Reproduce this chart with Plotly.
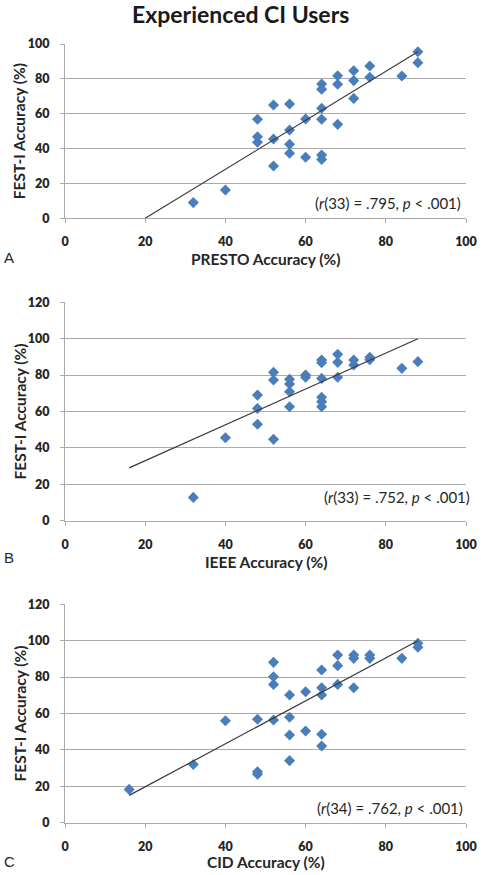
import plotly.graph_objects as go

# ---------------- data ----------------
presto_x = [88, 88, 84, 76, 76, 72, 72, 72, 68, 68, 68, 64, 64, 64, 64, 64, 64,
            60, 60, 56, 56, 56, 56, 52, 52, 52, 48, 48, 48, 40, 32]
festi_a = [95.5, 89.3, 81.6, 87.4, 80.9, 84.7, 79, 68.8, 81.8, 76.9, 53.9, 77, 74,
           63.1, 56.8, 36.3, 33.8, 57, 35, 65.6, 50.7, 42.5, 37.3, 65, 45.5, 30,
           56.8, 46.8, 43.6, 16.2, 9]

ieee_x = [88, 84, 76, 76, 72, 72, 68, 68, 68, 64, 64, 64, 64, 64, 64, 60, 60,
          56, 56, 56, 56, 52, 52, 52, 48, 48, 48, 40, 32]
festi_b = [87.4, 83.7, 89.8, 88.5, 88.3, 85.5, 91.4, 87, 78.8, 88.3, 86.8, 78.2,
           67.8, 65.4, 62.6, 80, 78.8, 77.7, 75.1, 70.9, 62.6, 81.5, 77.3, 44.7,
           69, 61.7, 53, 45.6, 12.8]

cid_x = [88, 88, 84, 76, 76, 72, 72, 72, 68, 68, 68, 64, 64, 64, 64, 64, 60, 60,
         56, 56, 56, 56, 52, 52, 52, 52, 48, 48, 48, 40, 32, 16]
festi_c = [98.6, 96.4, 90.3, 92.1, 90.3, 92.1, 90.3, 74.2, 92.1, 86.3, 76, 83.9,
           74.2, 70.2, 48.6, 42.1, 72, 50.4, 70.2, 57.9, 48.2, 34.1, 88.1, 80.2,
           76, 56.4, 56.8, 28, 26.6, 56, 32, 18.3]

trend_a_x = [20, 88]
trend_a_y = [0, 95.5]
trend_b_x = [16, 88]
trend_b_y = [29, 100]
trend_c_x = [16, 88]
trend_c_y = [15, 100]

x_titles = ["PRESTO Accuracy (%)", "IEEE Accuracy (%)", "CID Accuracy (%)"]
y_title = "FEST-I Accuracy (%)"
stats = ["(<i>r</i>(33) = .795, <i>p</i> < .001)",
         "(<i>r</i>(33) = .752, <i>p</i> < .001)",
         "(<i>r</i>(34) = .762, <i>p</i> < .001)"]
letters = ["A", "B", "C"]
y_max = [100, 120, 120]
title = "Experienced CI Users"

# ---------------- layout geometry ----------------
W, H = 481, 875
FONT = "Lato"
TXT = "#262626"
GRID = "#ababab"
BLUE = "#4a7ebb"

def py(p):
    return 1 - p / H

def px(p):
    return p / W

x_dom = [px(65), px(466)]
y_doms = [[py(218.3), py(44)], [py(520.7), py(302.3)], [py(822.7), py(604.3)]]
xtitle_y = [259, 562, 862]
letter_y = [257, 557, 861]
stat_right = [463, 472, 465]
stat_y = [202.7, 497.3, 808]

fig = go.Figure()

series = [(presto_x, festi_a, trend_a_x, trend_a_y),
          (ieee_x, festi_b, trend_b_x, trend_b_y),
          (cid_x, festi_c, trend_c_x, trend_c_y)]

annotations = []
for i, (xs, ys, tx, ty) in enumerate(series):
    sfx = "" if i == 0 else str(i + 1)
    fig.add_trace(go.Scatter(x=xs, y=ys, mode="markers",
                             marker=dict(symbol="diamond", size=8.5, color=BLUE,
                                         line=dict(width=0)),
                             xaxis="x" + sfx, yaxis="y" + sfx, showlegend=False,
                             cliponaxis=False))
    fig.add_trace(go.Scatter(x=tx, y=ty, mode="lines",
                             line=dict(color="#3a3a3a", width=1.2),
                             xaxis="x" + sfx, yaxis="y" + sfx, showlegend=False))
    axis_common = dict(showline=True, linecolor=GRID, linewidth=1,
                       ticks="outside", ticklen=4, tickcolor=GRID,
                       tickfont=dict(family=FONT, size=12.5, color=TXT, weight=800),
                       zeroline=False, ticklabeloverflow="allow", automargin=False)
    fig.layout["xaxis" + sfx] = dict(domain=x_dom, range=[0, 100], dtick=20, tick0=0,
                                     anchor="y" + sfx, showgrid=False,
                                     ticklabelstandoff=8, **axis_common)
    fig.layout["yaxis" + sfx] = dict(domain=y_doms[i], range=[0, y_max[i]], dtick=20,
                                     tick0=0, anchor="x" + sfx, showgrid=True,
                                     gridcolor=GRID, gridwidth=1,
                                     ticklabelstandoff=8, **axis_common)
    annotations.append(dict(text="<b>" + x_titles[i] + "</b>", x=px(265.5), y=py(xtitle_y[i]),
                            xref="paper", yref="paper", showarrow=False,
                            font=dict(family=FONT, size=15.5, color=TXT),
                            xanchor="center", yanchor="middle"))
    annotations.append(dict(text="<b>" + y_title + "</b>", x=px(19),
                            y=(y_doms[i][0] + y_doms[i][1]) / 2,
                            xref="paper", yref="paper", showarrow=False, textangle=-90,
                            font=dict(family=FONT, size=15.5, color=TXT),
                            xanchor="center", yanchor="middle"))
    annotations.append(dict(text=letters[i], x=px(2), y=py(letter_y[i]),
                            xref="paper", yref="paper", showarrow=False,
                            font=dict(family="Liberation Sans", size=15, color=TXT),
                            xanchor="left", yanchor="middle"))
    annotations.append(dict(text=stats[i], x=px(stat_right[i]), y=py(stat_y[i]),
                            xref="paper", yref="paper", showarrow=False,
                            font=dict(family=FONT, size=15, color=TXT),
                            xanchor="right", yanchor="middle"))

annotations.append(dict(text="<b>" + title + "</b>", x=px(240), y=py(14),
                        xref="paper", yref="paper", showarrow=False,
                        font=dict(family=FONT, size=23, color="#1a1a1a"),
                        xanchor="center", yanchor="middle"))

fig.update_layout(width=W, height=H, margin=dict(l=0, r=0, t=0, b=0),
                  paper_bgcolor="white", plot_bgcolor="white",
                  annotations=annotations, showlegend=False)

fig.write_html("out.html", config={"displayModeBar": False},
               post_script="document.body.style.margin='0';"
                           "document.documentElement.style.overflow='hidden';")
